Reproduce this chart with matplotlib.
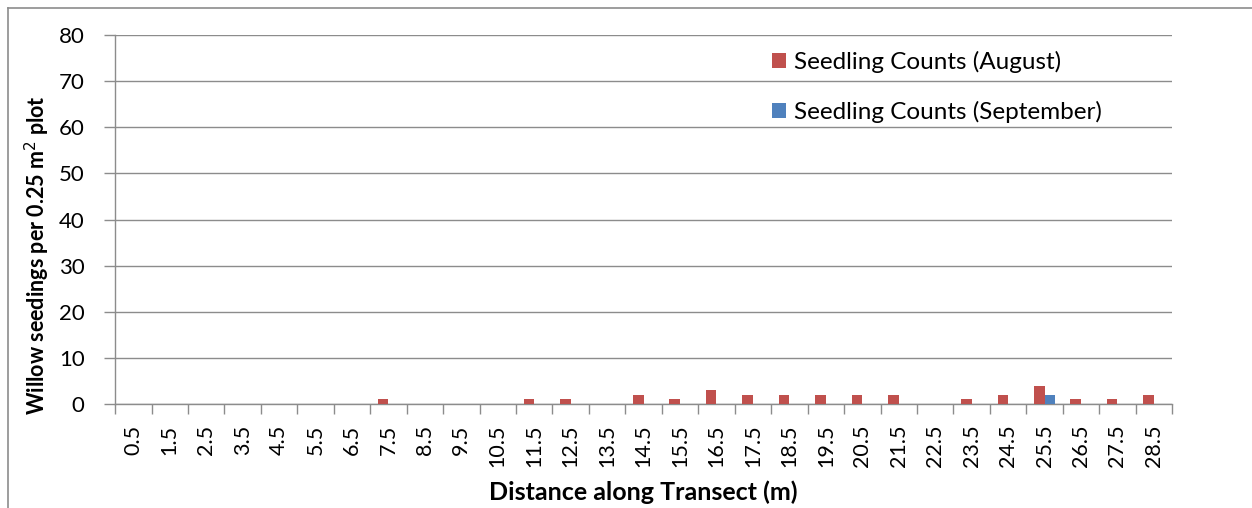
import numpy as np
import matplotlib.pyplot as plt
from matplotlib.lines import Line2D

# distance categories (m)
distances = ["0.5", "1.5", "2.5", "3.5", "4.5", "5.5", "6.5", "7.5", "8.5", "9.5",
             "10.5", "11.5", "12.5", "13.5", "14.5", "15.5", "16.5", "17.5", "18.5",
             "19.5", "20.5", "21.5", "22.5", "23.5", "24.5", "25.5", "26.5", "27.5", "28.5"]
august = [0, 0, 0, 0, 0, 0, 0, 1, 0, 0,
          0, 1, 1, 0, 2, 1, 3, 2, 2,
          2, 2, 2, 0, 1, 2, 4, 1, 1, 2]
september = [0, 0, 0, 0, 0, 0, 0, 0, 0, 0,
             0, 0, 0, 0, 0, 0, 0, 0, 0,
             0, 0, 0, 0, 0, 0, 2, 0, 0, 0]

plt.rcParams['font.family'] = ['Lato', 'DejaVu Sans']

fig = plt.figure(figsize=(12.52, 5.08), dpi=100)
ax = fig.add_axes([0.0919, 0.2047, 0.8443, 0.7263])

x = np.arange(len(distances))
w = 0.29
ax.bar(x - w / 2, august, w, color="#C0504D", label="Seedling Counts (August)", zorder=3)
ax.bar(x + w / 2, september, w, color="#4F81BD", label="Seedling Counts (September)", zorder=3)

ax.set_xlim(-0.5, len(distances) - 0.5)
ax.set_ylim(0, 80)
ax.set_yticks(range(0, 81, 10))
ax.grid(axis="y", color="#8c8c8c", linewidth=1, zorder=0)

ax.set_xticks(x)
ax.set_xticklabels(distances, rotation=90, fontsize=15.5)
ax.set_xticks(np.arange(-0.5, len(distances), 1), minor=True)
ax.tick_params(axis="x", which="major", length=0, pad=15)
ax.tick_params(axis="x", which="minor", length=7, color="#8c8c8c", width=1)
ax.tick_params(axis="y", length=8, color="#8c8c8c", width=1, labelsize=16, pad=14)

for s in ["top", "right"]:
    ax.spines[s].set_visible(False)
for s in ["left", "bottom"]:
    ax.spines[s].set_color("#8c8c8c")
    ax.spines[s].set_linewidth(1)

ax.set_xlabel("Distance along Transect (m)", fontsize=18, fontweight="bold", labelpad=9)
ax.set_ylabel("Willow seedings per 0.25 m$^2$ plot", fontsize=15.5, fontweight="bold")
ax.yaxis.set_label_coords(-0.0596, 0.404)

ax.legend(loc="upper left", bbox_to_anchor=(0.607, 1.0), frameon=False, fontsize=17.5,
          handlelength=0.55, handleheight=0.55, handletextpad=0.35, labelspacing=1.15,
          borderaxespad=0.25)

# chart border (top and left visible)
fig.add_artist(Line2D([0.0064, 1.0], [0.984, 0.984], color="#8c8c8c", linewidth=1.2))
fig.add_artist(Line2D([0.0064, 0.0064], [0.0, 0.984], color="#8c8c8c", linewidth=1.2))

fig.savefig("out.png", dpi=100)
